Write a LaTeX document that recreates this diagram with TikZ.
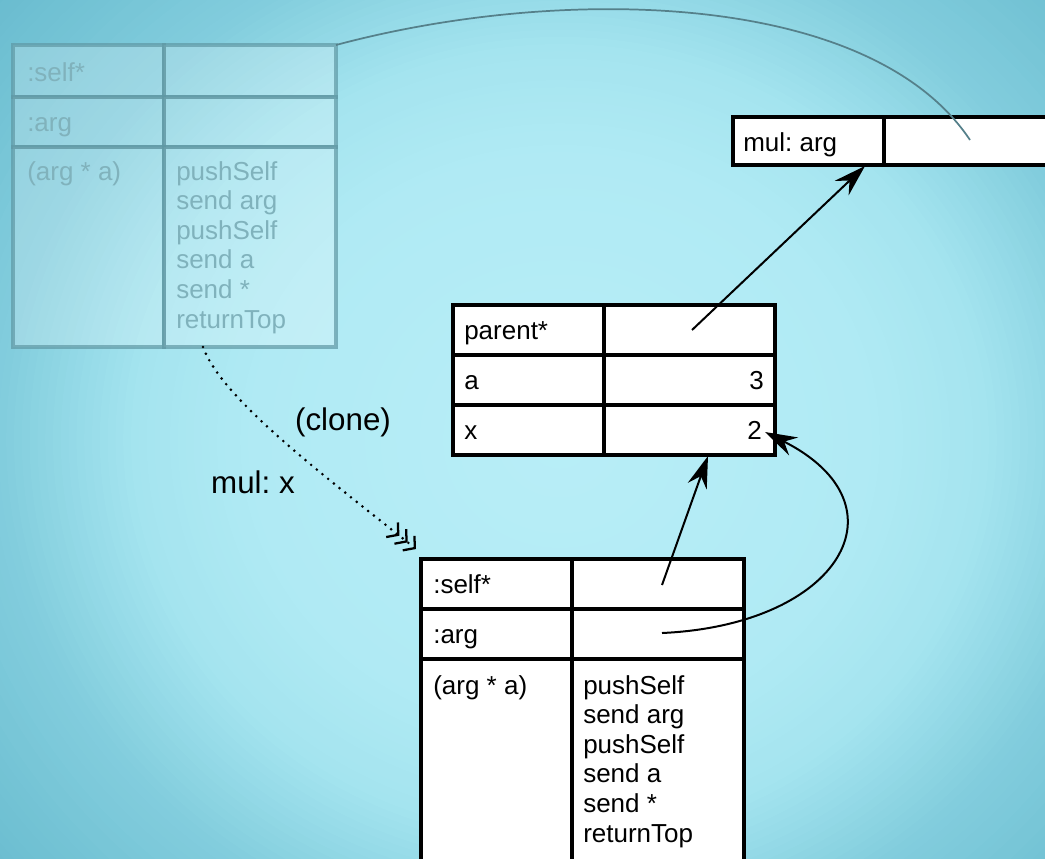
\documentclass[tikz,border=0pt]{standalone}
\usepackage{fontspec}
\setmainfont{Liberation Sans}
\usetikzlibrary{arrows.meta,calc}
\definecolor{bgA}{HTML}{B8EEF7}
\definecolor{bgB}{HTML}{B0EAF4}
\definecolor{bgC}{HTML}{A4E4EF}
\definecolor{bgD}{HTML}{82CDDD}
\definecolor{bgE}{HTML}{64B8CC}
\definecolor{fadeline}{HTML}{5F98A4}
\definecolor{fadetext}{HTML}{80B2BC}
\definecolor{linkgray}{HTML}{55808A}
\newcommand\pxu{0.75pt}
\newcommand\tabfont{\fontsize{19.5}{22.2}\selectfont}
\newcommand\bigfont{\fontsize{23.5}{28}\selectfont}
\frenchspacing
\begin{document}
\begin{tikzpicture}[x=0.75pt,y=-0.75pt,
  cell/.style={draw=black, line width=3.6pt, fill=white, inner sep=0pt, outer sep=0pt},
  fcell/.style={draw=fadeline, draw opacity=0.7, line width=3.6pt, fill=white, fill opacity=0.22, inner sep=0pt, outer sep=0pt},
  txt/.style={inner sep=0pt, font=\tabfont, text=black},
  ftxt/.style={inner sep=0pt, font=\tabfont, text=fadetext},
  lbl/.style={inner sep=0pt, font=\bigfont, text=black},
  ptr/.style={line width=1.5pt, draw=black, -{Stealth[length=24pt,width=15pt,inset=8pt]}},
  clonearrow/.style={line width=2.2pt, line cap=round, dash pattern=on 0pt off 5.5pt,
    -{Straight Barb[length=6pt,width=14pt,line width=1.7pt,line cap=butt] Straight Barb[length=6pt,width=14pt,line width=1.7pt,line cap=butt] Straight Barb[length=6pt,width=14pt,line width=1.7pt,line cap=butt]}},
  graylink/.style={line width=1.3pt, draw=linkgray},
]
\useasboundingbox (0,0) rectangle (1045,858);
\clip (0,0) rectangle (1045,858);
% background: radial gradient built from concentric ellipses
\fill[bgE] (0,0) rectangle (1045,858);
\foreach \i in {100,99,...,73}{
  \pgfmathtruncatemacro\p{(\i-72)/28*100}
  \colorlet{bgcur}{bgE!\p!bgD}
  \fill[bgcur] (560,440) ellipse [x radius=7.8*\i, y radius=7.2*\i];
}
\foreach \i in {72,71,...,56}{
  \pgfmathtruncatemacro\p{(\i-55)/17*100}
  \colorlet{bgcur}{bgD!\p!bgC}
  \fill[bgcur] (560,440) ellipse [x radius=7.8*\i, y radius=7.2*\i];
}
\foreach \i in {55,54,...,41}{
  \pgfmathtruncatemacro\p{(\i-40)/15*100}
  \colorlet{bgcur}{bgC!\p!bgB}
  \fill[bgcur] (560,440) ellipse [x radius=7.8*\i, y radius=7.2*\i];
}
\foreach \i in {40,39,...,1}{
  \pgfmathtruncatemacro\p{\i/40*100}
  \colorlet{bgcur}{bgB!\p!bgA}
  \fill[bgcur] (560,440) ellipse [x radius=7.8*\i, y radius=7.2*\i];
}

% faded (original) method object
\node[fcell, minimum width=151*\pxu, minimum height=52*\pxu] (F11) at (88.5,71) {};
\node[fcell, minimum width=172*\pxu, minimum height=52*\pxu] (F12) at (250,71) {};
\node[fcell, minimum width=151*\pxu, minimum height=50*\pxu] (F21) at (88.5,122) {};
\node[fcell, minimum width=172*\pxu, minimum height=50*\pxu] (F22) at (250,122) {};
\node[fcell, minimum width=151*\pxu, minimum height=200*\pxu] (F31) at (88.5,247) {};
\node[fcell, minimum width=172*\pxu, minimum height=200*\pxu] (F32) at (250,247) {};
\node[ftxt, anchor=base west] (ft1) at (27,81) {:self*};
\node[ftxt, anchor=base west] (ft2) at (27,131) {:arg};
\node[ftxt, anchor=north west] (ft3) at (27,161) {(arg * a)};
\node[ftxt, anchor=north west, align=left] (ft4) at (176,161) {pushSelf\\send arg\\pushSelf\\send a\\send *\\returnTop};

% mul: arg slot
\node[cell, minimum width=151*\pxu, minimum height=48*\pxu] (M1) at (808.5,141) {};
\node[cell, minimum width=176*\pxu, minimum height=48*\pxu] (M2) at (972,141) {};
\node[txt, anchor=base west] (mt1) at (743,151) {mul: arg};

% parent object
\node[cell, minimum width=151*\pxu, minimum height=50*\pxu] (P11) at (528.5,330) {};
\node[cell, minimum width=171*\pxu, minimum height=50*\pxu] (P12) at (689.5,330) {};
\node[cell, minimum width=151*\pxu, minimum height=50*\pxu] (P21) at (528.5,380) {};
\node[cell, minimum width=171*\pxu, minimum height=50*\pxu] (P22) at (689.5,380) {};
\node[cell, minimum width=151*\pxu, minimum height=50*\pxu] (P31) at (528.5,430) {};
\node[cell, minimum width=171*\pxu, minimum height=50*\pxu] (P32) at (689.5,430) {};
\node[txt, anchor=base west] (pt1) at (464,339.5) {parent*};
\node[txt, anchor=base west] (pt2) at (464,389.5) {a};
\node[txt, anchor=base east] (pt3) at (764,389.5) {3};
\node[txt, anchor=base west] (pt4) at (464,439.5) {x};
\node[txt, anchor=base east] (pt5) at (762,439.5) {2};

% cloned activation
\node[cell, minimum width=151*\pxu, minimum height=50*\pxu] (B11) at (496.5,584) {};
\node[cell, minimum width=172*\pxu, minimum height=50*\pxu] (B12) at (658,584) {};
\node[cell, minimum width=151*\pxu, minimum height=50*\pxu] (B21) at (496.5,634) {};
\node[cell, minimum width=172*\pxu, minimum height=50*\pxu] (B22) at (658,634) {};
\node[cell, minimum width=151*\pxu, minimum height=220*\pxu] (B31) at (496.5,769) {};
\node[cell, minimum width=172*\pxu, minimum height=220*\pxu] (B32) at (658,769) {};
\node[txt, anchor=base west] (bt1) at (433,593.5) {:self*};
\node[txt, anchor=base west] (bt2) at (433,643.5) {:arg};
\node[txt, anchor=north west] (bt3) at (433,675) {(arg * a)};
\node[txt, anchor=north west, align=left] (bt4) at (583,675) {pushSelf\\send arg\\pushSelf\\send a\\send *\\returnTop};

% labels
\node[lbl] (clone) at (343,422) {(clone)};
\node[lbl] (mulx) at (253,482) {mul: x};

% connectors
\draw[graylink] (F12.north east) .. controls (560,-15) and (870,-10) .. ($(M2.center)+(-2,-1)$);
\draw[clonearrow] ($(F32.south west)+(39,0)$) .. controls (222,400) and (330,480) .. ($(B11.north west)+(-5,-10)$);
\draw[ptr] ($(P12.center)+(2.5,0)$) -- ($(M1.south east)+(-19,1)$);
\draw[ptr] ($(B12.center)+(4,1)$) -- ($(P32.south)+(18.5,1)$);
\draw[ptr] ($(B22.center)+(4,-1)$) .. controls (840,625) and (910,505) .. ($(P32.east)+(-10,2)$);
\end{tikzpicture}
\end{document}
